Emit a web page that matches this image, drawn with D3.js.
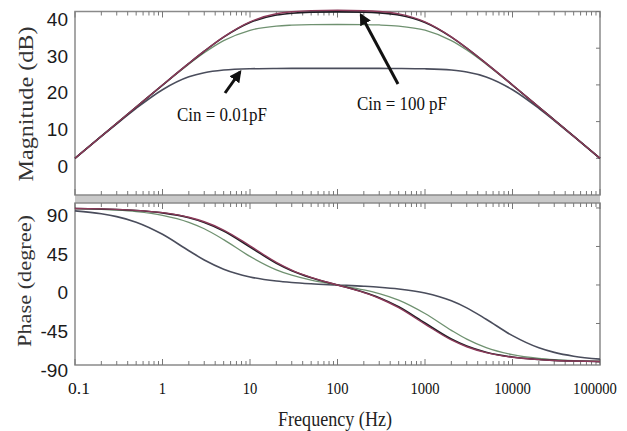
<!DOCTYPE html>
<html><head><meta charset="utf-8">
<script src="https://cdn.jsdelivr.net/npm/d3@7"></script>
<style>html,body{margin:0;padding:0;background:#fff;}svg{display:block;}</style>
</head><body>
<svg id="chart" width="627" height="431"></svg>
<script>
// Frequencies (Hz)
const freq = [0.1,0.2,0.3,0.5,1,2,3,5,10,20,30,50,100,200,300,500,1000,2000,3000,5000,10000,20000,30000,50000,100000];
// Magnitude (dB)
const magRed   = [0,6.02,9.54,13.97,19.96,25.87,29.2,33.09,37.2,39.37,39.92,40.23,40.33,40.22,40.0,39.36,37.19,33.09,30.04,25.86,19.96,13.97,10.45,6.02,0];
const magBlack = [0,6.02,9.54,13.97,19.96,25.85,29.17,33.01,36.99,39.03,39.54,39.82,39.91,39.82,39.62,39.03,36.99,33.01,30.0,25.85,19.96,13.97,10.45,6.02,0];
const magGreen = [0,6.02,9.53,13.96,19.9,25.65,28.74,32.05,34.89,36.04,36.28,36.42,36.46,36.42,36.33,36.04,34.9,32.05,29.5,25.65,19.91,13.96,10.45,6.02,0];
const magLow   = [-0.02,5.96,9.4,13.61,18.68,22.19,23.32,24.04,24.39,24.48,24.5,24.5,24.5,24.5,24.49,24.47,24.38,24.04,23.52,22.18,18.68,13.61,10.29,5.96,-0.02];
// Phase (degree)
const phRed   = [89.45,88.9,88.35,87.24,84.5,79.1,73.87,64.24,45.8,26.5,17.49,8.87,0,-8.88,-15.49,-26.49,-45.8,-64.24,-72.19,-79.1,-84.5,-87.24,-88.16,-88.9,-89.45];
const phBlack = [89.42,88.84,88.27,87.11,84.23,78.58,73.13,63.14,44.43,25.42,16.71,8.45,0,-8.45,-14.79,-25.42,-44.43,-63.14,-71.38,-78.58,-84.23,-87.11,-88.07,-88.84,-89.42];
const phGreen = [89.14,88.28,87.42,85.7,81.45,73.25,65.71,52.99,33.36,17.71,11.4,5.7,0,-5.7,-10.05,-17.7,-33.37,-53.0,-63.35,-73.25,-81.45,-85.7,-87.13,-88.28,-89.14];
const phLow   = [86.59,83.21,79.88,73.43,59.23,40.01,29.22,18.52,9.44,4.61,2.92,1.44,0,-1.44,-2.56,-4.61,-9.43,-18.51,-26.71,-40.0,-59.21,-73.42,-78.77,-83.21,-86.59];
// Tick labels
const xTicks = [0.1,1,10,100,1000,10000,100000];
const magTicks = [0,10,20,30,40];
const phTicks = [-90,-45,0,45,90];

const svg = d3.select("#chart");
const L = 75, R = 600;
const x = d3.scaleLog().domain([0.1,100000]).range([L,R]);
const yM = d3.scaleLinear().domain([-10,40]).range([195,11.5]);
const yP = d3.scaleLinear().domain([-93.5,95.8]).range([365,203]);

const frame = "#8a8a8a";
// gray band
svg.append("rect").attr("x",L).attr("y",195).attr("width",R-L).attr("height",8).attr("fill","#c9c9c9");

function panel(top,bottom){
  svg.append("rect").attr("x",L).attr("y",top).attr("width",R-L).attr("height",bottom-top)
    .attr("fill","none").attr("stroke",frame).attr("stroke-width",1.5);
  const minor = [];
  for(let e=-1;e<5;e++){ for(let m=1;m<10;m++){ minor.push(m*Math.pow(10,e)); } }
  minor.push(100000);
  minor.forEach(v=>{
    const maj = Math.abs(Math.log10(v)-Math.round(Math.log10(v)))<1e-9;
    const len = maj?6:4;
    svg.append("line").attr("x1",x(v)).attr("x2",x(v)).attr("y1",top).attr("y2",top+len).attr("stroke","#777").attr("stroke-width",1);
    svg.append("line").attr("x1",x(v)).attr("x2",x(v)).attr("y1",bottom).attr("y2",bottom-len).attr("stroke","#777").attr("stroke-width",1);
  });
}
panel(11.5,195);
panel(203,365);

// right-side ticks
magTicks.forEach(t=>{
  svg.append("line").attr("x1",R).attr("x2",R-4).attr("y1",yM(t)).attr("y2",yM(t)).attr("stroke","#777");
});
phTicks.forEach(t=>{
  svg.append("line").attr("x1",R).attr("x2",R-4).attr("y1",yP(t)).attr("y2",yP(t)).attr("stroke","#777");
});

// y tick labels
const sansNarrow = "'Liberation Sans Narrow','Arial Narrow','Liberation Sans',sans-serif";
magTicks.forEach(t=>{
  svg.append("text").attr("x",68).attr("y",yM(t)+8).attr("text-anchor","end").attr("dominant-baseline","central")
    .attr("font-family",sansNarrow).attr("font-size",19).attr("fill","#1a1a1a").text(t);
});
phTicks.forEach(t=>{
  svg.append("text").attr("x",68).attr("y",yP(t)+8).attr("text-anchor","end").attr("dominant-baseline","central")
    .attr("font-family",sansNarrow).attr("font-size",19).attr("fill","#1a1a1a").text(t);
});
// x tick labels
const serif = "'Liberation Serif','Times New Roman',serif";
xTicks.forEach(t=>{
  const s = String(t);
  const px = t===0.1 ? x(t)+4 : (t===100000 ? x(t)-5 : x(t));
  svg.append("text").attr("x",px).attr("y",388).attr("text-anchor","middle").attr("dominant-baseline","central")
    .attr("font-family",serif).attr("font-size",17).attr("fill","#111")
    .attr("textLength",s.length*7.3).attr("lengthAdjust","spacingAndGlyphs").text(s);
});

// axis titles
svg.append("text").attr("transform","translate(26,104) rotate(-90)").attr("text-anchor","middle").attr("dominant-baseline","central")
  .attr("font-family",serif).attr("font-size",20).attr("fill","#333").attr("textLength",155).attr("lengthAdjust","spacingAndGlyphs").text("Magnitude (dB)");
svg.append("text").attr("transform","translate(24,281) rotate(-90)").attr("text-anchor","middle").attr("dominant-baseline","central")
  .attr("font-family",serif).attr("font-size",19).attr("fill","#333").attr("textLength",132).attr("lengthAdjust","spacingAndGlyphs").text("Phase (degree)");
svg.append("text").attr("x",335).attr("y",419).attr("text-anchor","middle").attr("dominant-baseline","central")
  .attr("font-family",serif).attr("font-size",20).attr("fill","#222")
  .attr("textLength",114).attr("lengthAdjust","spacingAndGlyphs").text("Frequency (Hz)");

// curves
const series = [
  {m:magLow, p:phLow, c:"#4a4d5c", w:1.6},
  {m:magGreen, p:phGreen, c:"#6f9170", w:1.3},
  {m:magBlack, p:phBlack, c:"#1e1e24", w:1.6},
  {m:magRed, p:phRed, c:"#8c3a5a", w:1.4}
];
const lineM = d3.line().x(d=>x(d[0])).y(d=>yM(d[1])).curve(d3.curveMonotoneX);
const lineP = d3.line().x(d=>x(d[0])).y(d=>yP(d[1])).curve(d3.curveMonotoneX);
series.forEach(s=>{
  svg.append("path").attr("d",lineM(freq.map((f,i)=>[f,s.m[i]]))).attr("fill","none").attr("stroke",s.c).attr("stroke-width",s.w);
  svg.append("path").attr("d",lineP(freq.map((f,i)=>[f,s.p[i]]))).attr("fill","none").attr("stroke",s.c).attr("stroke-width",s.w);
});

// annotations
svg.append("defs").append("marker").attr("id","ah").attr("viewBox","0 0 10 10").attr("refX",8).attr("refY",5)
  .attr("markerWidth",4).attr("markerHeight",4).attr("orient","auto")
  .append("path").attr("d","M0,0 L10,5 L0,10 z").attr("fill","#111");
svg.append("line").attr("x1",225).attr("y1",93).attr("x2",240).attr("y2",72).attr("stroke","#111").attr("stroke-width",3).attr("marker-end","url(#ah)");
svg.append("line").attr("x1",398).attr("y1",84).attr("x2",361).attr("y2",15).attr("stroke","#111").attr("stroke-width",3).attr("marker-end","url(#ah)");
svg.append("text").attr("x",177).attr("y",114).attr("dominant-baseline","central").attr("font-family",serif).attr("font-size",19)
  .attr("fill","#111").attr("textLength",90).attr("lengthAdjust","spacingAndGlyphs").text("Cin = 0.01pF");
svg.append("text").attr("x",357).attr("y",103).attr("dominant-baseline","central").attr("font-family",serif).attr("font-size",19)
  .attr("fill","#111").attr("textLength",90).attr("lengthAdjust","spacingAndGlyphs").text("Cin = 100 pF");
</script>
</body></html>
